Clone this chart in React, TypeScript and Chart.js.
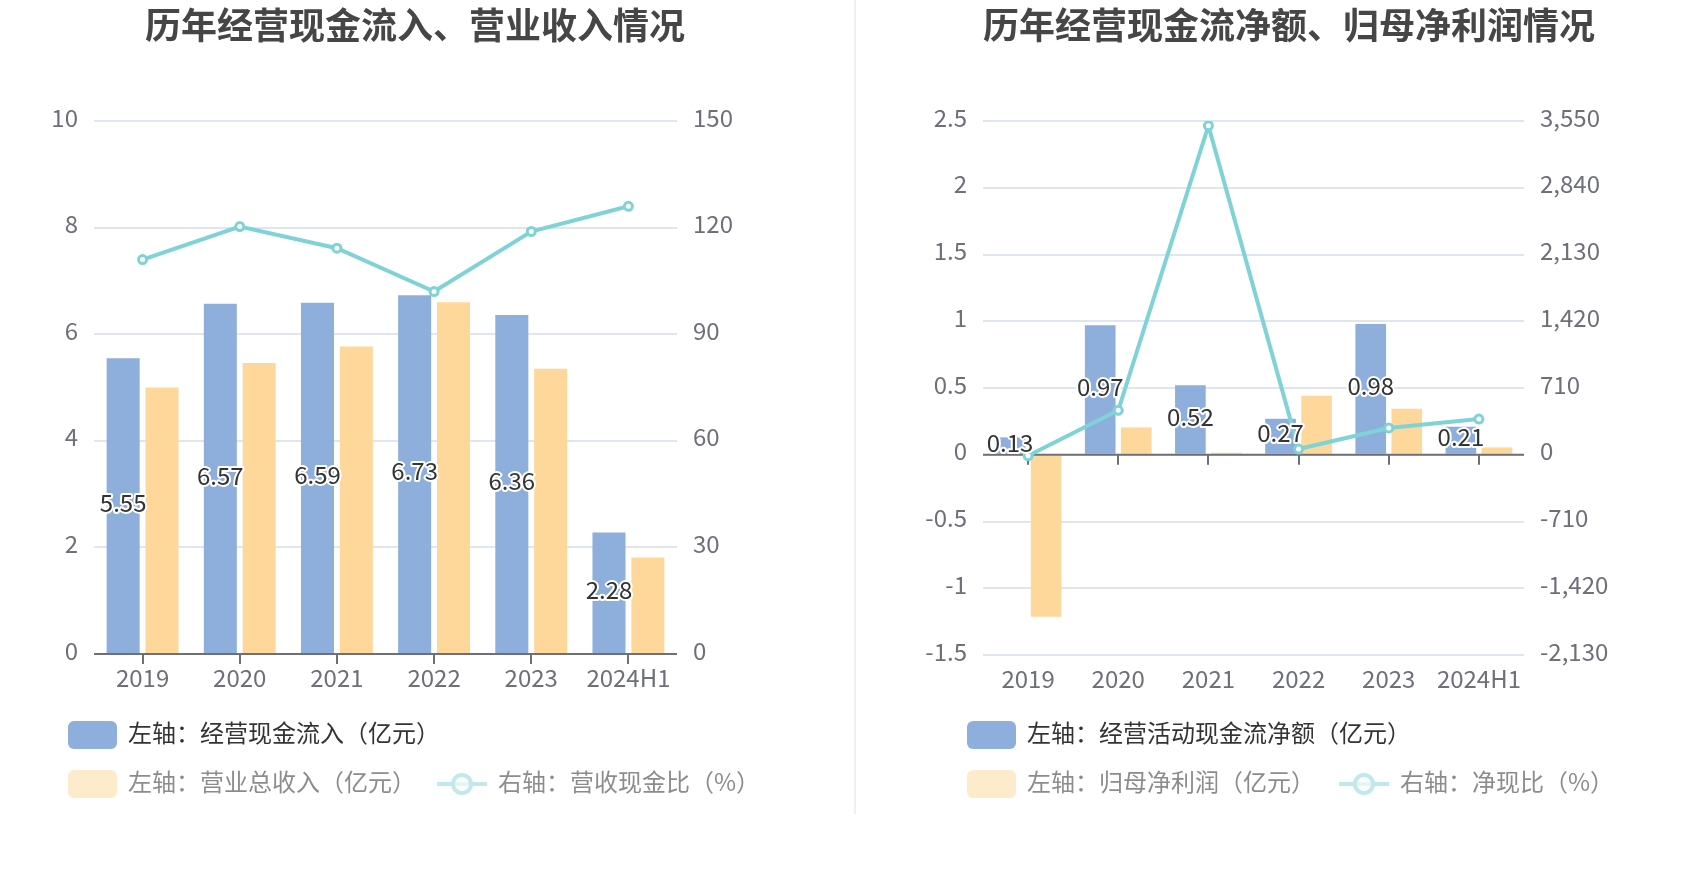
import React, { useEffect, useRef } from "react";
import { Chart, registerables } from "chart.js";

Chart.register(...registerables);

// ---------- data ----------
const categories = ["2019", "2020", "2021", "2022", "2023", "2024H1"];

// panel 1
const cashInflow = [5.55, 6.57, 6.59, 6.73, 6.36, 2.28];
const totalRevenue = [5.0, 5.46, 5.77, 6.6, 5.35, 1.81];
const cashRevenueRatio = [111.0, 120.3, 114.2, 102.0, 118.9, 126.0];
const panel1Legend = ["左轴：经营现金流入（亿元）", "左轴：营业总收入（亿元）", "右轴：营收现金比（%）"];
const panel1Title = "历年经营现金流入、营业收入情况";
const panel1LeftTicks = [0, 2, 4, 6, 8, 10];
const panel1RightTicks = [0, 30, 60, 90, 120, 150];

// panel 2
const netOperatingCash = [0.13, 0.97, 0.52, 0.27, 0.98, 0.21];
const netProfit = [-1.213, 0.205, 0.015, 0.442, 0.345, 0.055];
const netCashRatio = [-10.7, 473, 3500, 61, 285, 380];
const panel2Legend = ["左轴：经营活动现金流净额（亿元）", "左轴：归母净利润（亿元）", "右轴：净现比（%）"];
const panel2Title = "历年经营现金流净额、归母净利润情况";
const panel2LeftTicks = [-1.5, -1, -0.5, 0, 0.5, 1, 1.5, 2, 2.5];
const panel2RightTicks = [-2130, -1420, -710, 0, 710, 1420, 2130, 2840, 3550];

// ---------- style ----------
const BLUE = "#8eaedb";
const ORANGE = "#fed89a";
const TEAL = "#7fd3d7";
const BLUE_LEG = "#8eaedb";
const ORANGE_LEG = "#feebcc";
const TEAL_LEG = "#bfe9eb";
const AXIS = "#6e7079";
const GRID = "#e0e6f1";
const FONT = '"Noto Sans CJK SC", "Noto Sans", sans-serif';

const fmt = (v: any) => Number(v).toLocaleString("en-US", { maximumFractionDigits: 2 });

type PanelProps = {
  left: number;
  title: string;
  titleCenter: number;
  legend: string[];
  bars1: number[];
  bars2: number[];
  line: number[];
  leftTicks: number[];
  rightTicks: number[];
  plotLeft: number;
  plotRight: number;
  plotBottom: number;
  legendBoxLeft: number;
  legendLineLeft: number;
};

function Panel(p: PanelProps) {
  const ref = useRef<HTMLCanvasElement | null>(null);

  useEffect(() => {
    if (!ref.current) return;
    const W = 850;
    const H = 874;
    const xAxisH = 60;

    const zeroAxis = {
      id: "zeroAxis",
      beforeDatasetDraw(chart: any, args: any) {
        if (args.meta.type !== "line") return;
        const { ctx, chartArea } = chart;
        const xs = chart.scales.x;
        const ys = chart.scales.y;
        const y0 = ys.getPixelForValue(0);
        ctx.save();
        ctx.strokeStyle = AXIS;
        ctx.lineWidth = 2;
        ctx.beginPath();
        ctx.moveTo(chartArea.left, y0);
        ctx.lineTo(chartArea.right, y0);
        categories.forEach((_, i) => {
          const x = Math.round(xs.getPixelForValue(i));
          ctx.moveTo(x, y0);
          ctx.lineTo(x, y0 + 10);
        });
        ctx.stroke();
        ctx.restore();
      },
    };

    const valueLabels = {
      id: "valueLabels",
      afterDatasetsDraw(chart: any) {
        const meta = chart.getDatasetMeta(1);
        const { ctx } = chart;
        ctx.save();
        ctx.font = `24px ${FONT}`;
        ctx.textAlign = "center";
        ctx.textBaseline = "middle";
        ctx.lineJoin = "round";
        meta.data.forEach((bar: any, i: number) => {
          const { x, y, base } = bar.getProps(["x", "y", "base"], true);
          const cy = (y + base) / 2 - 3;
          const t = p.bars1[i].toFixed(2);
          ctx.lineWidth = 4;
          ctx.strokeStyle = "#fff";
          ctx.strokeText(t, x, cy);
          ctx.fillStyle = "#333";
          ctx.fillText(t, x, cy);
        });
        ctx.restore();
      },
    };

    const lStep = p.leftTicks[1] - p.leftTicks[0];
    const rStep = p.rightTicks[1] - p.rightTicks[0];

    const chart = new Chart(ref.current, {
      type: "bar",
      data: {
        labels: categories,
        datasets: [
          {
            type: "line",
            label: p.legend[2],
            data: p.line,
            yAxisID: "y1",
            borderColor: TEAL,
            borderWidth: 4,
            pointRadius: 4,
            pointBorderWidth: 3,
            pointBackgroundColor: "#fff",
            pointBorderColor: TEAL,
            tension: 0,
            order: 0,
          } as any,
          {
            type: "bar",
            label: p.legend[0],
            data: p.bars1,
            yAxisID: "y",
            backgroundColor: BLUE,
            categoryPercentage: 0.8,
            barPercentage: 0.85,
            order: 1,
          },
          {
            type: "bar",
            label: p.legend[1],
            data: p.bars2,
            yAxisID: "y",
            backgroundColor: ORANGE,
            categoryPercentage: 0.8,
            barPercentage: 0.85,
            order: 2,
          },
        ],
      },
      options: {
        responsive: false,
        animation: false,
        devicePixelRatio: 1,
        layout: {
          padding: { top: 121, bottom: H - p.plotBottom - xAxisH, left: 0, right: 0 },
        },
        plugins: {
          legend: { display: false },
          tooltip: { enabled: false },
          title: { display: false },
        },
        scales: {
          x: {
            grid: { display: false, drawTicks: false },
            border: { display: false },
            ticks: {
              font: { size: 24, family: FONT },
              color: AXIS,
              padding: 9,
              maxRotation: 0,
              autoSkip: false,
            },
            afterFit: (s: any) => {
              s.height = xAxisH;
            },
          },
          y: {
            position: "left",
            min: p.leftTicks[0],
            max: p.leftTicks[p.leftTicks.length - 1],
            ticks: {
              stepSize: lStep,
              font: { size: 24, family: FONT },
              color: AXIS,
              padding: 16,
              labelOffset: -3.5,
              callback: fmt,
            },
            grid: { color: GRID, lineWidth: 2, drawTicks: false },
            border: { display: false },
            afterFit: (s: any) => {
              s.width = p.plotLeft;
            },
          },
          y1: {
            position: "right",
            min: p.rightTicks[0],
            max: p.rightTicks[p.rightTicks.length - 1],
            ticks: {
              stepSize: rStep,
              font: { size: 24, family: FONT },
              color: AXIS,
              padding: 16,
              labelOffset: -3.5,
              callback: fmt,
            },
            grid: { display: false, drawTicks: false },
            border: { display: false },
            afterFit: (s: any) => {
              s.width = W - p.plotRight;
            },
          },
        },
      },
      plugins: [zeroAxis, valueLabels],
    });
    return () => chart.destroy();
  }, []);

  const legendText = (color: string): React.CSSProperties => ({
    position: "absolute",
    font: `24px ${FONT}`,
    color,
    lineHeight: "30px",
    whiteSpace: "nowrap",
  });

  return (
    <div style={{ position: "absolute", left: p.left, top: 0, width: 850, height: 874 }}>
      <canvas ref={ref} width={850} height={874} style={{ position: "absolute", left: 0, top: 0, width: 850, height: 874 }} />
      <div
        style={{
          position: "absolute",
          left: p.titleCenter - 420,
          width: 840,
          top: 2,
          textAlign: "center",
          font: `700 36px ${FONT}`,
          lineHeight: "42px",
          color: "#464646",
          whiteSpace: "nowrap",
        }}
      >
        {p.title}
      </div>
      {/* legend row 1 */}
      <div style={{ position: "absolute", left: p.legendBoxLeft, top: 721, width: 49, height: 28, borderRadius: 6, background: BLUE_LEG }} />
      <div style={{ ...legendText("#333"), left: p.legendBoxLeft + 60, top: 717 }}>{p.legend[0]}</div>
      {/* legend row 2 */}
      <div style={{ position: "absolute", left: p.legendBoxLeft, top: 770, width: 49, height: 28, borderRadius: 6, background: ORANGE_LEG }} />
      <div style={{ ...legendText("#8c8c8c"), left: p.legendBoxLeft + 60, top: 766 }}>{p.legend[1]}</div>
      <div style={{ position: "absolute", left: p.legendLineLeft, top: 782, width: 50, height: 4, background: TEAL_LEG }} />
      <div
        style={{
          position: "absolute",
          left: p.legendLineLeft + 25 - 11,
          top: 784 - 11,
          width: 14,
          height: 14,
          borderRadius: "50%",
          border: `4px solid ${TEAL_LEG}`,
          background: "rgba(255,255,255,0.6)",
        }}
      />
      <div style={{ ...legendText("#8c8c8c"), left: p.legendLineLeft + 61, top: 766 }}>{p.legend[2]}</div>
    </div>
  );
}

export default function App() {
  return (
    <div style={{ position: "absolute", left: 0, top: 0, width: 1700, height: 874, background: "#fff", overflow: "hidden" }}>
      <Panel
        left={0}
        title={panel1Title}
        titleCenter={415}
        legend={panel1Legend}
        bars1={cashInflow}
        bars2={totalRevenue}
        line={cashRevenueRatio}
        leftTicks={panel1LeftTicks}
        rightTicks={panel1RightTicks}
        plotLeft={94}
        plotRight={677}
        plotBottom={654}
        legendBoxLeft={68}
        legendLineLeft={437}
      />
      <Panel
        left={850}
        title={panel2Title}
        titleCenter={439}
        legend={panel2Legend}
        bars1={netOperatingCash}
        bars2={netProfit}
        line={netCashRatio}
        leftTicks={panel2LeftTicks}
        rightTicks={panel2RightTicks}
        plotLeft={133}
        plotRight={674}
        plotBottom={655}
        legendBoxLeft={117}
        legendLineLeft={489}
      />
      <div style={{ position: "absolute", left: 854, top: 0, width: 2, height: 814, background: "#f0f0f0" }} />
    </div>
  );
}
